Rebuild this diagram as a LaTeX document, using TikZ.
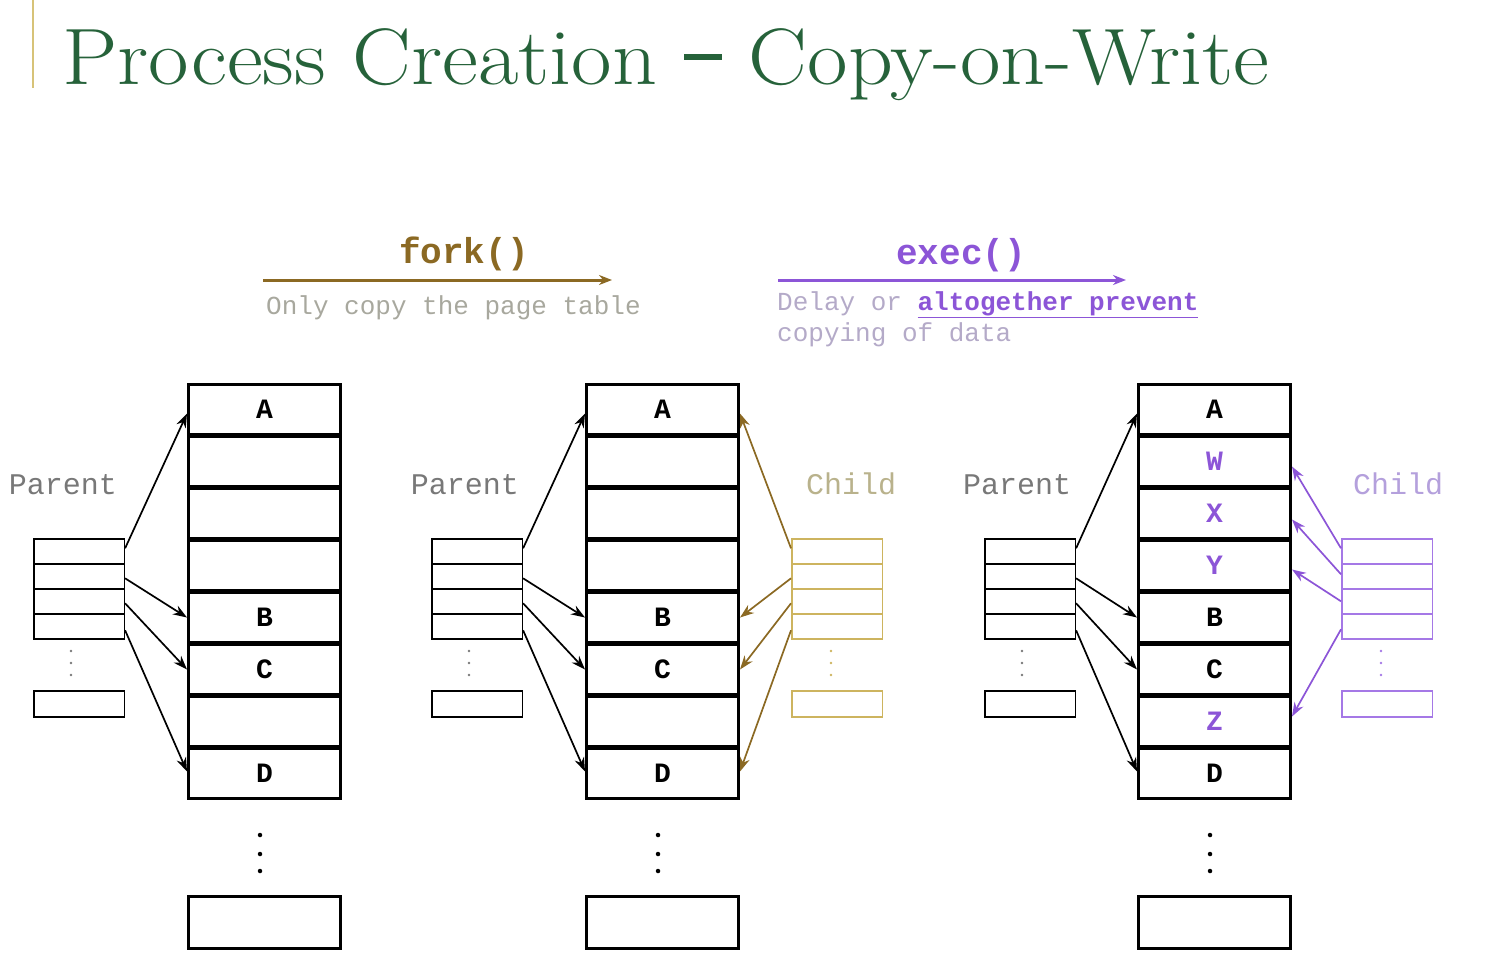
\documentclass[tikz,border=0pt]{standalone}
\usepackage{fontspec}
\setmonofont{Liberation Mono}
\usetikzlibrary{arrows.meta}
\definecolor{titlegreen}{RGB}{38,98,58}
\definecolor{bargold}{RGB}{215,195,120}
\definecolor{forkbrown}{RGB}{139,105,35}
\definecolor{childgold}{RGB}{205,180,95}
\definecolor{childgoldtxt}{RGB}{185,178,140}
\definecolor{execpurple}{RGB}{140,85,215}
\definecolor{childpurple}{RGB}{165,120,230}
\definecolor{childpurpletxt}{RGB}{180,160,220}
\definecolor{lavgray}{RGB}{180,170,200}
\definecolor{lightgray}{RGB}{168,168,158}
\definecolor{parentgray}{RGB}{120,120,120}
\begin{document}
\begin{tikzpicture}[x=1pt,y=-1pt,
  cell/.style={draw, line width=3pt, minimum width=152pt, minimum height=50pt,
    inner sep=0pt, anchor=north west, font=\fontsize{28}{28}\selectfont\ttfamily\bfseries},
  botcell/.style={cell, minimum height=52pt},
  pcell/.style={draw=#1, line width=1.6pt, minimum width=90.5pt, minimum height=25pt,
    inner sep=0pt, anchor=north west},
  pcell/.default=black,
  pbox/.style={pcell=#1, minimum height=26pt},
  pbox/.default=black,
  tablabel/.style={anchor=base, inner sep=0pt, font=\fontsize{30}{30}\selectfont\ttfamily},
  parr/.style={line width=1.7pt, -{Stealth[length=14pt,width=10pt]}},
  bigdot/.style={circle, fill=black, inner sep=0pt, minimum size=4.5pt},
  smalldot/.style={circle, fill=parentgray, inner sep=0pt, minimum size=2.6pt},
]
\path[use as bounding box] (0,0) rectangle (1495,970);

% title
\draw[bargold, line width=2.5pt] (33,0) -- (33,88);
\node[anchor=base west, inner sep=0pt, text=titlegreen, xscale=1.1,
  font=\fontsize{80}{90}\selectfont] (title) at (62,84)
  {Process Creation \rule[0.3em]{0.44em}{0.08em} Copy-on-Write};

% fork / exec headings
\node[anchor=base, inner sep=0pt, text=forkbrown,
  font=\fontsize{36}{36}\selectfont\ttfamily\bfseries] (fork) at (464,263) {fork()};
\coordinate (forkL) at (263,280);
\coordinate (forkR) at (612,280);
\draw[forkbrown, line width=3pt, -{Stealth[length=13pt,width=10pt]}] (forkL) -- (forkR);
\node[anchor=base west, inner sep=0pt, text=lightgray,
  font=\fontsize{26}{26}\selectfont\ttfamily] (forknote) at (266,314) {Only copy the page table};

\node[anchor=base, inner sep=0pt, text=execpurple,
  font=\fontsize{36}{36}\selectfont\ttfamily\bfseries] (exec) at (961,264) {exec()};
\coordinate (execL) at (778,280);
\coordinate (execR) at (1126,280);
\draw[execpurple, line width=3pt, -{Stealth[length=13pt,width=10pt]}] (execL) -- (execR);
\node[anchor=base west, inner sep=0pt, text=lavgray,
  font=\fontsize{26}{26}\selectfont\ttfamily] (execnote1) at (777,310)
  {Delay or \textcolor{execpurple}{\bfseries\underline{altogether prevent}}};
\node[anchor=base west, inner sep=0pt, text=lavgray,
  font=\fontsize{26}{26}\selectfont\ttfamily] (execnote2) at (777,341) {copying of data};

% ---------- memory columns ----------
\foreach \c/\xx in {1/187, 2/585, 3/1137}{
  \node[botcell] (m\c-bot) at (\xx,895) {};
  \node[bigdot] (m\c-d1) at (\xx+73,835) {};
  \node[bigdot] (m\c-d2) at (\xx+73,854) {};
  \node[bigdot] (m\c-d3) at (\xx+73,871) {};
}
\foreach \i/\t in {1/A,2/{},3/{},4/{},5/B,6/C,7/{},8/D}{
  \node[cell] (m1-\i) at (187,{383+52*(\i-1)}) {\t};
  \node[cell] (m2-\i) at (585,{383+52*(\i-1)}) {\t};
}
\foreach \i/\t in {1/A,2/\textcolor{execpurple}{W},3/\textcolor{execpurple}{X},4/\textcolor{execpurple}{Y},5/B,6/C,7/\textcolor{execpurple}{Z},8/D}{
  \node[cell] (m3-\i) at (1137,{383+52*(\i-1)}) {\t};
}

% ---------- page tables ----------
\foreach \c/\xx in {1/33, 2/431, 3/984}{
  \foreach \i in {1,...,4}{
    \node[pcell] (p\c-\i) at (\xx,{538+25*(\i-1)}) {};
  }
  \node[pbox] (p\c-b) at (\xx,690) {};
  \node[smalldot] (p\c-d1) at (\xx+38,651) {};
  \node[smalldot] (p\c-d2) at (\xx+38,663) {};
  \node[smalldot] (p\c-d3) at (\xx+38,675) {};
}
\foreach \c/\xx/\cl in {2/791/childgold, 3/1341/childpurple}{
  \foreach \i in {1,...,4}{
    \node[pcell=\cl] (c\c-\i) at (\xx,{538+25*(\i-1)}) {};
  }
  \node[pbox=\cl] (c\c-b) at (\xx,690) {};
  \node[smalldot, fill=\cl] (c\c-d1) at (\xx+40,651) {};
  \node[smalldot, fill=\cl] (c\c-d2) at (\xx+40,663) {};
  \node[smalldot, fill=\cl] (c\c-d3) at (\xx+40,675) {};
}

% labels
\node[tablabel, text=parentgray] (par1) at (63,494) {Parent};
\node[tablabel, text=parentgray] (par2) at (465,494) {Parent};
\node[tablabel, text=parentgray] (par3) at (1017,494) {Parent};
\node[tablabel, text=childgoldtxt] (chi2) at (851,494) {Child};
\node[tablabel, text=childpurpletxt] (chi3) at (1398,494) {Child};

% parent arrows
\foreach \c in {1,2,3}{
  \draw[parr] ([yshift=3pt]p\c-1.east) -- ([yshift=-4pt]m\c-1.west);
  \draw[parr] ([yshift=-2pt]p\c-2.east) -- (m\c-5.west);
  \draw[parr] ([yshift=-2pt]p\c-3.east) -- (m\c-6.west);
  \draw[parr] ([yshift=-4pt]p\c-4.east) -- ([yshift=2pt]m\c-8.west);
}
% child arrows (fork)
\draw[parr, forkbrown] ([yshift=3pt]c2-1.west) -- ([yshift=-4pt]m2-1.east);
\draw[parr, forkbrown] ([yshift=-2pt]c2-2.west) -- (m2-5.east);
\draw[parr, forkbrown] ([yshift=-2pt]c2-3.west) -- (m2-6.east);
\draw[parr, forkbrown] ([yshift=-4pt]c2-4.west) -- ([yshift=2pt]m2-8.east);
% child arrows (exec)
\draw[parr, execpurple] ([yshift=3pt]c3-1.west) -- ([yshift=-5pt]m3-2.east);
\draw[parr, execpurple] ([yshift=2pt]c3-2.west) -- ([yshift=-6pt]m3-3.east);
\draw[parr, execpurple] ([yshift=0pt]c3-3.west) -- ([yshift=-4pt]m3-4.east);
\draw[parr, execpurple] ([yshift=-3pt]c3-4.west) -- ([yshift=5pt]m3-7.east);
\end{tikzpicture}
\end{document}
